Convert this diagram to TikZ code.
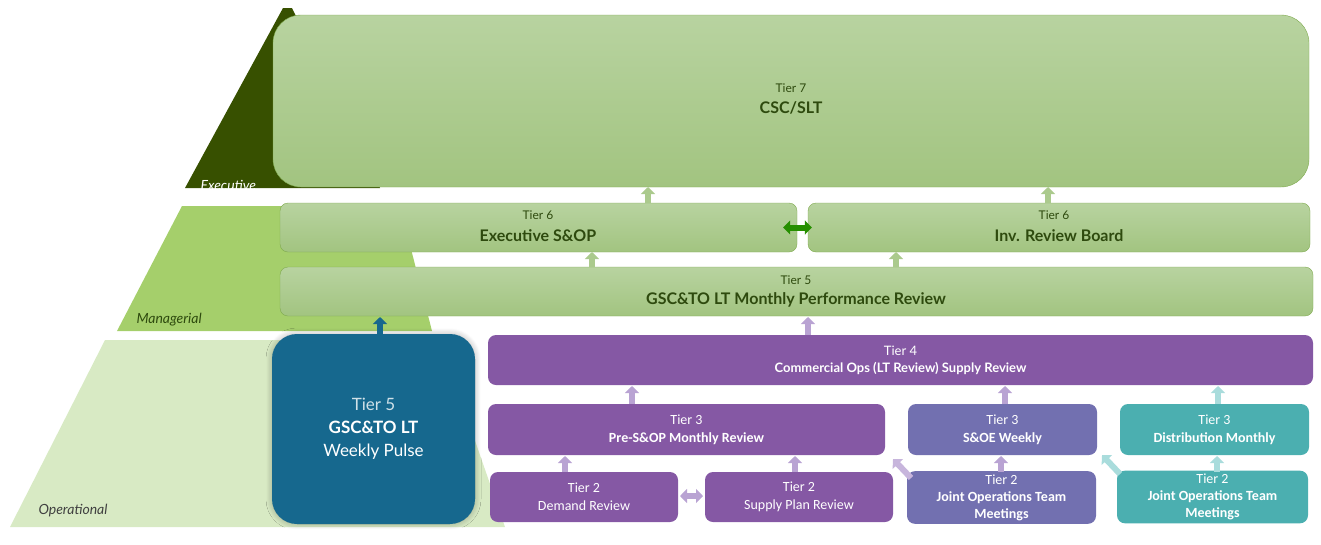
\documentclass[tikz,border=0pt]{standalone}
\usepackage{fontspec}
\setmainfont{Carlito}
\newfontfamily\lato{Lato}
\usetikzlibrary{arrows.meta,shadows.blur}
\definecolor{dkg}{HTML}{375000}
\definecolor{mg}{HTML}{A5CF6B}
\definecolor{lg}{HTML}{D8EAC4}
\definecolor{gtop}{HTML}{B8D3A0}
\definecolor{gbot}{HTML}{A2C480}
\definecolor{gbrd}{HTML}{7FAA4E}
\definecolor{gtxt}{HTML}{2E4A0E}
\definecolor{pur}{HTML}{8558A4}
\definecolor{lav}{HTML}{7270B0}
\definecolor{teal}{HTML}{4BAFB0}
\definecolor{blu}{HTML}{16688E}
\definecolor{lpur}{HTML}{B9A3D3}
\definecolor{lteal}{HTML}{A9DCDC}
\begin{document}
\begin{tikzpicture}[x=1pt,y=-1pt,
 gbox/.style={draw=gbrd,rounded corners=8pt,top color=gtop,bottom color=gbot,text=gtxt,align=center,font=\lato},
 cbox/.style={rounded corners=8pt,text=white,align=center},
 barr/.style={line width=6pt,-{Triangle[width=14pt,length=7pt]}},
 darr/.style={line width=6pt,{Triangle[width=14pt,length=7pt]}-{Triangle[width=14pt,length=7pt]}}]
\useasboundingbox (0,0) rectangle (1321,544);
% pyramid
\fill[dkg] (283,8) -- (292,8) -- (380,188) -- (185,188) -- cycle;
\fill[mg] (182,206) -- (400,206) -- (432,331) -- (117,331) -- cycle;
\fill[lg] (105,340) -- (440,340) -- (505,527) -- (10,527) -- cycle;
\node[font=\lato\itshape,text=white,anchor=west,font=\lato\itshape\fontsize{14}{16}\selectfont] (le) at (197,185) {Executive};
\node[font=\lato\itshape\fontsize{14}{16}\selectfont,text=gtxt,anchor=west] (lm) at (133,320) {Managerial};
\node[font=\lato\itshape\fontsize{14}{16}\selectfont,text=black!75,anchor=west] (lo) at (35,511) {Operational};
% green boxes
\node[gbox,rounded corners=28pt,minimum width=1036pt,minimum height=172pt] (t7) at (791,101) {};
\node[text=gtxt,font=\lato\fontsize{12}{14}\selectfont] (t7a) at (791,88) {Tier 7};
\node[text=gtxt,font=\lato\bfseries\fontsize{16}{18}\selectfont] (t7b) at (791,108) {CSC/SLT};
\node[gbox,minimum width=517pt,minimum height=49pt] (t6a) at (538.5,227.5) {};
\node[text=gtxt,font=\lato\fontsize{12}{14}\selectfont] at (538,215) {Tier 6};
\node[text=gtxt,font=\lato\bfseries\fontsize{16}{18}\selectfont] at (538,236) {Executive S\&OP};
\node[gbox,minimum width=502pt,minimum height=49pt] (t6b) at (1059,227.5) {};
\node[text=gtxt,font=\lato\fontsize{12}{14}\selectfont] at (1054,215) {Tier 6};
\node[text=gtxt,font=\lato\bfseries\fontsize{16}{18}\selectfont] at (1059,236) {Inv. Review Board};
\node[gbox,minimum width=1033pt,minimum height=49pt] (t5) at (796.5,291.5) {};
\node[text=gtxt,font=\lato\fontsize{12}{14}\selectfont] at (796,280) {Tier 5};
\node[text=gtxt,font=\lato\bfseries\fontsize{16}{18}\selectfont] at (796,300) {GSC\&TO LT Monthly Performance Review};
% blue box
\node[cbox,fill=blu,rounded corners=25pt,minimum width=203pt,minimum height=190pt,blur shadow={shadow blur steps=8,shadow xshift=0pt,shadow yshift=0pt,shadow opacity=30,shadow blur radius=6pt},font=\lato\fontsize{17}{23}\selectfont] (w5) at (373.5,429) {\textcolor{white!80!blu}{Tier 5}\\\textbf{GSC\&TO LT}\\Weekly Pulse};
% purple
\node[cbox,fill=pur,minimum width=825pt,minimum height=50pt,font=\lato\fontsize{13}{17}\selectfont] (t4) at (900.5,360) {Tier 4\\\textbf{Commercial Ops (LT Review) Supply Review}};
\node[cbox,fill=pur,minimum width=397pt,minimum height=51pt,font=\fontsize{14}{18}\selectfont] (p3) at (686.5,429.5) {Tier 3\\\textbf{Pre-S\&OP Monthly Review}};
\node[cbox,fill=lav,minimum width=189pt,minimum height=51pt,font=\fontsize{14}{18}\selectfont] (s3) at (1002.5,429.5) {Tier 3\\\textbf{S\&OE Weekly}};
\node[cbox,fill=teal,minimum width=189pt,minimum height=51pt,font=\fontsize{14}{18}\selectfont] (d3) at (1214.5,429.5) {Tier 3\\\textbf{Distribution Monthly}};
\node[cbox,fill=pur,minimum width=188pt,minimum height=50pt,font=\fontsize{14}{18}\selectfont] (dr) at (584,497) {Tier 2\\Demand Review};
\node[cbox,fill=pur,minimum width=188pt,minimum height=50pt,font=\fontsize{14}{18}\selectfont] (sp) at (799,497) {Tier 2\\Supply Plan Review};
\node[cbox,fill=lav,minimum width=189pt,minimum height=51pt,font=\fontsize{14}{17}\selectfont] (j1) at (1001.5,497.5) {Tier 2\\\textbf{Joint Operations Team}\\\textbf{Meetings}};
\node[cbox,fill=teal,minimum width=191pt,minimum height=50pt,font=\fontsize{14}{17}\selectfont] (j2) at (1212.5,497) {Tier 2\\\textbf{Joint Operations Team}\\\textbf{Meetings}};
% arrows
\draw[barr,draw=gbot!90!white] (648,203) -- (648,187);
\draw[barr,draw=gbot!90!white] (1048,203) -- (1048,187);
\draw[barr,draw=gbot!90!white] (592,267) -- (592,252);
\draw[barr,draw=gbot!90!white] (896,267) -- (896,252);
\draw[darr,draw=green!45!black!80!lime] (t6a.east) ++(-14,0) -- ([xshift=4pt]t6b.west);
\draw[barr,draw=blu] (380,334) -- (380,317);
\draw[barr,draw=lpur] (808,335) -- (808,317);
\draw[barr,draw=lpur] (632,404) -- (632,386);
\draw[barr,draw=lpur] (1005,404) -- (1005,386);
\draw[barr,draw=lteal] (1218,404) -- (1218,386);
\draw[barr,draw=lpur] (565,472) -- (565,456);
\draw[barr,draw=lpur] (795,472) -- (795,456);
\draw[barr,draw=lpur] (1001,472) -- (1001,456);
\draw[barr,draw=lteal] (1217,472) -- (1217,456);
\draw[barr,draw=lpur!80!white] (911,478) -- (893,459);
\draw[barr,draw=lteal] (1120,474) -- (1102,455);
\draw[darr,draw=lpur] (680,496) -- (703,496);
\end{tikzpicture}
\end{document}
